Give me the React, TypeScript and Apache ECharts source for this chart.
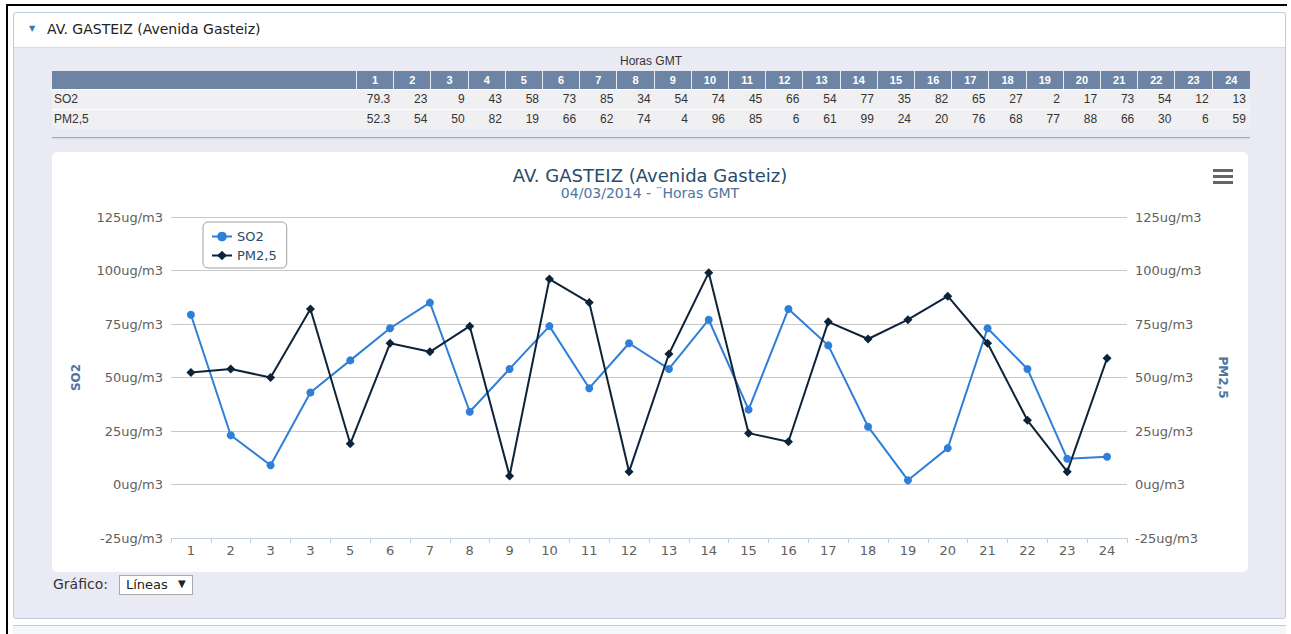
import React, { useEffect, useRef } from "react";
import * as echarts from "echarts";

// ---- data ----
const tableHours = ["1", "2", "3", "4", "5", "6", "7", "8", "9", "10", "11", "12", "13", "14", "15", "16", "17", "18", "19", "20", "21", "22", "23", "24"];
const xLabels = ["1", "2", "3", "3", "5", "6", "7", "8", "9", "10", "11", "12", "13", "14", "15", "16", "17", "18", "19", "20", "21", "22", "23", "24"];
const so2Values = [79.3, 23, 9, 43, 58, 73, 85, 34, 54, 74, 45, 66, 54, 77, 35, 82, 65, 27, 2, 17, 73, 54, 12, 13];
const pm25Values = [52.3, 54, 50, 82, 19, 66, 62, 74, 4, 96, 85, 6, 61, 99, 24, 20, 76, 68, 77, 88, 66, 30, 6, 59];
const seriesNames = ["SO2", "PM2,5"];
const tableRows = [
  { name: "SO2", values: so2Values },
  { name: "PM2,5", values: pm25Values },
];

const FONT = "'DejaVu Sans', Verdana, sans-serif";
const TFONT = "'Liberation Sans', Arial, sans-serif";

function Chart() {
  const ref = useRef<HTMLDivElement>(null);
  useEffect(() => {
    if (!ref.current) return;
    const chart = echarts.init(ref.current, undefined, { renderer: "svg" });
    const axisLabel = {
      formatter: "{value}ug/m3",
      color: "#606060",
      fontSize: 13,
      fontFamily: FONT,
      margin: 8,
    };
    chart.setOption({
      animation: false,
      textStyle: { fontFamily: FONT },
      title: {
        text: "AV. GASTEIZ (Avenida Gasteiz)",
        subtext: "04/03/2014 - \u00A8Horas GMT",
        left: "center",
        top: 9,
        itemGap: 2,
        textStyle: { fontSize: 18, color: "#274b6d", fontWeight: "normal", fontFamily: FONT },
        subtextStyle: { fontSize: 14, color: "#4d759e", fontFamily: FONT },
      },
      legend: {
        orient: "vertical",
        left: 151,
        top: 70,
        backgroundColor: "#ffffff",
        borderColor: "#a0a0a0",
        borderWidth: 1,
        borderRadius: 5,
        padding: [8, 10, 6, 8],
        itemGap: 6,
        itemWidth: 20,
        itemHeight: 12,
        data: seriesNames,
        textStyle: { fontSize: 13, color: "#274b6d", fontFamily: FONT },
      },
      grid: { left: 119, right: 121, top: 65, bottom: 34 },
      xAxis: {
        type: "category",
        data: xLabels,
        boundaryGap: true,
        axisLine: { show: true, onZero: false, lineStyle: { color: "#C0D0E0", width: 1 } },
        axisTick: { show: true, length: 5, lineStyle: { color: "#C0D0E0" } },
        axisLabel: { interval: 0, color: "#606060", fontSize: 13, fontFamily: FONT, margin: 6 },
        splitLine: { show: false },
      },
      yAxis: [
        {
          type: "value",
          min: -25,
          max: 125,
          interval: 25,
          position: "left",
          name: seriesNames[0],
          nameLocation: "middle",
          nameRotate: 90,
          nameGap: 89,
          nameTextStyle: { color: "#4d759e", fontWeight: "bold", fontSize: 12, fontFamily: FONT },
          axisLine: { show: false },
          axisTick: { show: false },
          axisLabel,
          splitLine: { show: true, lineStyle: { color: "#C8C8C8", width: 1 } },
        },
        {
          type: "value",
          min: -25,
          max: 125,
          interval: 25,
          position: "right",
          name: seriesNames[1],
          nameLocation: "middle",
          nameRotate: -90,
          nameGap: 90,
          nameTextStyle: { color: "#4d759e", fontWeight: "bold", fontSize: 12, fontFamily: FONT },
          axisLine: { show: false },
          axisTick: { show: false },
          axisLabel,
          splitLine: { show: false },
        },
      ],
      series: [
        {
          name: seriesNames[0],
          type: "line",
          yAxisIndex: 0,
          data: so2Values,
          symbol: "circle",
          symbolSize: 8,
          itemStyle: { color: "#2f7ed8" },
          lineStyle: { color: "#2f7ed8", width: 2 },
        },
        {
          name: seriesNames[1],
          type: "line",
          yAxisIndex: 1,
          data: pm25Values,
          symbol: "diamond",
          symbolSize: 9,
          itemStyle: { color: "#0d233a" },
          lineStyle: { color: "#0d233a", width: 2 },
        },
      ],
      graphic: [
        { type: "rect", shape: { x: 1161, y: 17, width: 20, height: 3 }, style: { fill: "#666" } },
        { type: "rect", shape: { x: 1161, y: 23, width: 20, height: 3 }, style: { fill: "#666" } },
        { type: "rect", shape: { x: 1161, y: 29, width: 20, height: 3 }, style: { fill: "#666" } },
      ],
    });
    return () => chart.dispose();
  }, []);
  return <div ref={ref} style={{ width: 1196, height: 420 }} />;
}

export default function App() {
  const labelW = 305;
  const colW = (1198 - labelW) / tableHours.length;
  return (
    <div style={{ position: "absolute", left: 0, top: 0, width: 1291, height: 634, background: "#ffffff", overflow: "hidden" }}>
      {/* outer black frame */}
      <div style={{ position: "absolute", left: 6, top: 4, width: 1281, height: 2, background: "#000" }} />
      <div style={{ position: "absolute", left: 6, top: 4, width: 2, height: 630, background: "#000" }} />
      {/* second panel edge at bottom */}
      <div style={{ position: "absolute", left: 13, top: 625, width: 1273, height: 9, borderTop: "1px solid #b8d0dc", background: "#f4f6f8" }} />
      {/* panel */}
      <div style={{ position: "absolute", left: 13, top: 12, width: 1271, height: 605, border: "1px solid #b8d0dc", borderRadius: 3, background: "#EAEAF4" }}>
        <div style={{ position: "absolute", left: 0, top: 0, width: 1271, height: 34, background: "#ffffff", borderBottom: "1px solid #d4dbe4", borderRadius: "3px 3px 0 0" }}>
          <span style={{ position: "absolute", left: 15, top: 11, fontSize: 8, color: "#2e7bc0", fontFamily: FONT }}>{"\u25BC"}</span>
          <span style={{ position: "absolute", left: 33, top: 8, fontSize: 14, color: "#222", fontFamily: FONT }}>AV. GASTEIZ (Avenida Gasteiz)</span>
        </div>
      </div>
      {/* table caption */}
      <div style={{ position: "absolute", left: 52, top: 54, width: 1198, textAlign: "center", fontSize: 12, color: "#333", fontFamily: TFONT }}>Horas GMT</div>
      {/* table */}
      <div style={{ position: "absolute", left: 52, top: 71, width: 1198, fontFamily: TFONT, fontSize: 12 }}>
        <div style={{ display: "flex", height: 18, background: "#6E84A4" }}>
          <div style={{ width: labelW, boxSizing: "border-box", borderRight: "1px solid #e8ecf2" }} />
          {tableHours.map((h, i) => (
            <div key={i} style={{ width: colW, boxSizing: "border-box", borderRight: i < tableHours.length - 1 ? "1px solid #e8ecf2" : "none", color: "#fff", fontWeight: "bold", textAlign: "center", lineHeight: "18px", fontSize: 11 }}>{h}</div>
          ))}
        </div>
        {tableRows.map((row, r) => (
          <div key={r} style={{ display: "flex", height: 19, background: "#F0F0F2", borderTop: "1px solid #ffffff", color: "#333" }}>
            <div style={{ width: labelW, boxSizing: "border-box", paddingLeft: 2, lineHeight: "19px" }}>{row.name}</div>
            {row.values.map((v, i) => (
              <div key={i} style={{ width: colW, boxSizing: "border-box", textAlign: "right", paddingRight: 4, lineHeight: "19px" }}>{String(v)}</div>
            ))}
          </div>
        ))}
      </div>
      {/* separator */}
      <div style={{ position: "absolute", left: 52, top: 137, width: 1198, height: 1, background: "#a8a8b0", boxShadow: "0 1px 1px #d8d8e0" }} />
      {/* chart card */}
      <div style={{ position: "absolute", left: 52, top: 152, width: 1196, height: 420, background: "#ffffff", borderRadius: 5, overflow: "hidden" }}>
        <Chart />
      </div>
      {/* chart type selector */}
      <div style={{ position: "absolute", left: 53, top: 576, fontSize: 14, color: "#333", fontFamily: FONT }}>Gráfico:</div>
      <div style={{ position: "absolute", left: 119, top: 575, width: 72, height: 18, border: "1px solid #a9a9a9", background: "#fff", fontFamily: FONT, fontSize: 13, color: "#222" }}>
        <span style={{ position: "absolute", left: 6, top: 1 }}>Líneas</span>
        <span style={{ position: "absolute", left: 58, top: 2, fontSize: 10 }}>{"\u25BC"}</span>
      </div>
    </div>
  );
}
